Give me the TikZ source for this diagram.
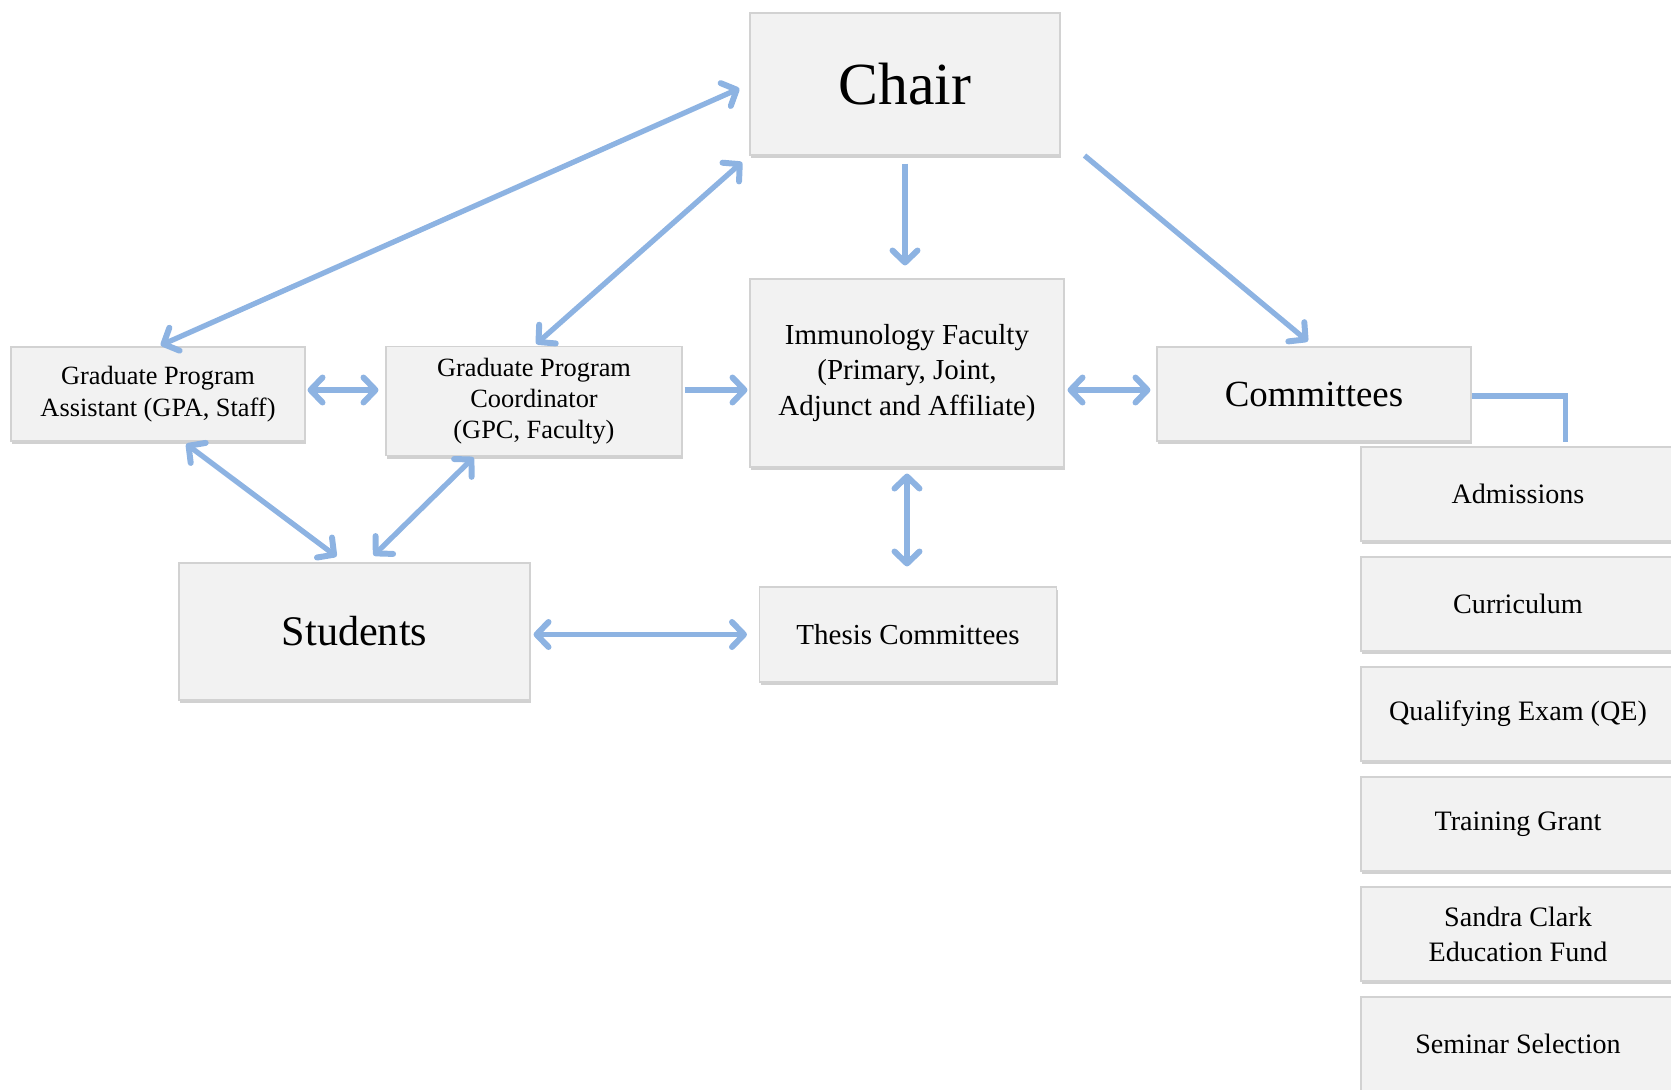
\documentclass[tikz,border=0pt]{standalone}
\usepackage{fontspec}
\setmainfont{Liberation Serif}
\usetikzlibrary{arrows.meta,shadows}
\definecolor{linkblue}{HTML}{8DB3E2}

\begin{document}
\begin{tikzpicture}[
  box/.style={draw=gray!35, fill=gray!10, line width=0.6pt, align=center, inner sep=2pt,
    drop shadow={shadow xshift=0.02cm, shadow yshift=-0.06cm, opacity=0.3, fill=black!60}},
  subbox/.style={box, minimum width=6.28cm, minimum height=1.88cm, font=\fontsize{16}{20}\selectfont},
  link/.style={draw=linkblue, line width=3pt},
  >={Straight Barb[length=0.24cm, width=0.5cm, round, line width=3.4pt]}
]

\useasboundingbox (0,0) rectangle (33.42,-21.78);

\node[box, minimum width=6.2cm, minimum height=2.84cm, font=\fontsize{34}{40}\selectfont] (chair) at (18.10,-1.68) {Chair};
\node[box, minimum width=6.28cm, minimum height=3.76cm, font=\fontsize{16.5}{20}\selectfont] (faculty) at (18.14,-7.46) {Immunology Faculty\\(Primary, Joint,\\Adjunct and Affiliate)};
\node[box, minimum width=6.28cm, minimum height=1.88cm, font=\fontsize{21}{25}\selectfont] (committees) at (26.28,-7.88) {Committees};
\node[box, minimum width=5.88cm, minimum height=1.88cm, font=\fontsize{15}{18}\selectfont] (gpa) at (3.16,-7.88) {Graduate Program\\Assistant (GPA, Staff)};
\node[box, minimum width=5.92cm, minimum height=2.18cm, font=\fontsize{15}{17.5}\selectfont] (gpc) at (10.68,-8.02) {Graduate Program\\Coordinator\\(GPC, Faculty)};
\node[box, minimum width=7.02cm, minimum height=2.74cm, font=\fontsize{24}{28}\selectfont] (students) at (7.09,-12.63) {Students};
\node[box, minimum width=5.94cm, minimum height=1.90cm, font=\fontsize{16.5}{20}\selectfont] (thesis) at (18.16,-12.69) {Thesis Committees};

\node[subbox] (admissions) at (30.36,-9.88) {Admissions};
\node[subbox] (curriculum) at (30.36,-12.08) {Curriculum};
\node[subbox] (qe) at (30.36,-14.28) {Qualifying Exam (QE)};
\node[subbox] (training) at (30.36,-16.48) {Training Grant};
\node[subbox] (sandra) at (30.36,-18.68) {Sandra Clark\\Education Fund};
\node[subbox] (seminar) at (30.36,-20.88) {Seminar Selection};

\draw[link,<->,shorten <=0.22cm,shorten >=0.06cm] (chair.west) -- (gpa.north);
\draw[link,<->,shorten <=0.2cm,shorten >=0.06cm] (chair.south west) -- (gpc.north);
\draw[link,->,shorten <=0.16cm,shorten >=0.26cm] (chair.south) -- (chair.south |- faculty.north);
\draw[link,->,shorten >=0.16cm] ([xshift=0.48cm]chair.south east) -- (committees.north);
\draw[link,<->,shorten <=0.04cm,shorten >=0.14cm] ([yshift=0.08cm]gpa.east) -- ([yshift=0.08cm]gpa.east -| gpc.west);
\draw[link,->,shorten <=0.04cm,shorten >=0.04cm] ([yshift=0.08cm]gpc.east |- gpa.east) -- ([yshift=0.08cm]faculty.west |- gpa.east);
\draw[link,<->,shorten <=0.06cm,shorten >=0.12cm] ([yshift=0.08cm]faculty.east |- committees.west) -- ([yshift=0.08cm]committees.west);
\draw[link,<->,shorten <=0.12cm,shorten >=0.4cm] (faculty.south) -- (faculty.south |- thesis.north);
\draw[link,<->,shorten <=0.08cm,shorten >=0.2cm] ([xshift=0.5cm]gpa.south) -- ([xshift=-0.2cm]students.north);
\draw[link,<->,shorten <=0.04cm,shorten >=0.2cm] ([xshift=-1.18cm]gpc.south) -- ([xshift=0.24cm]students.north);
\draw[link,<->,shorten <=0.06cm,shorten >=0.24cm] ([yshift=-0.06cm]students.east) -- ([yshift=-0.06cm]students.east -| thesis.west);
\draw[link,shorten >=0.08cm] ([yshift=-0.04cm]committees.east) -| ([xshift=0.95cm]admissions.north);

\end{tikzpicture}
\end{document}
